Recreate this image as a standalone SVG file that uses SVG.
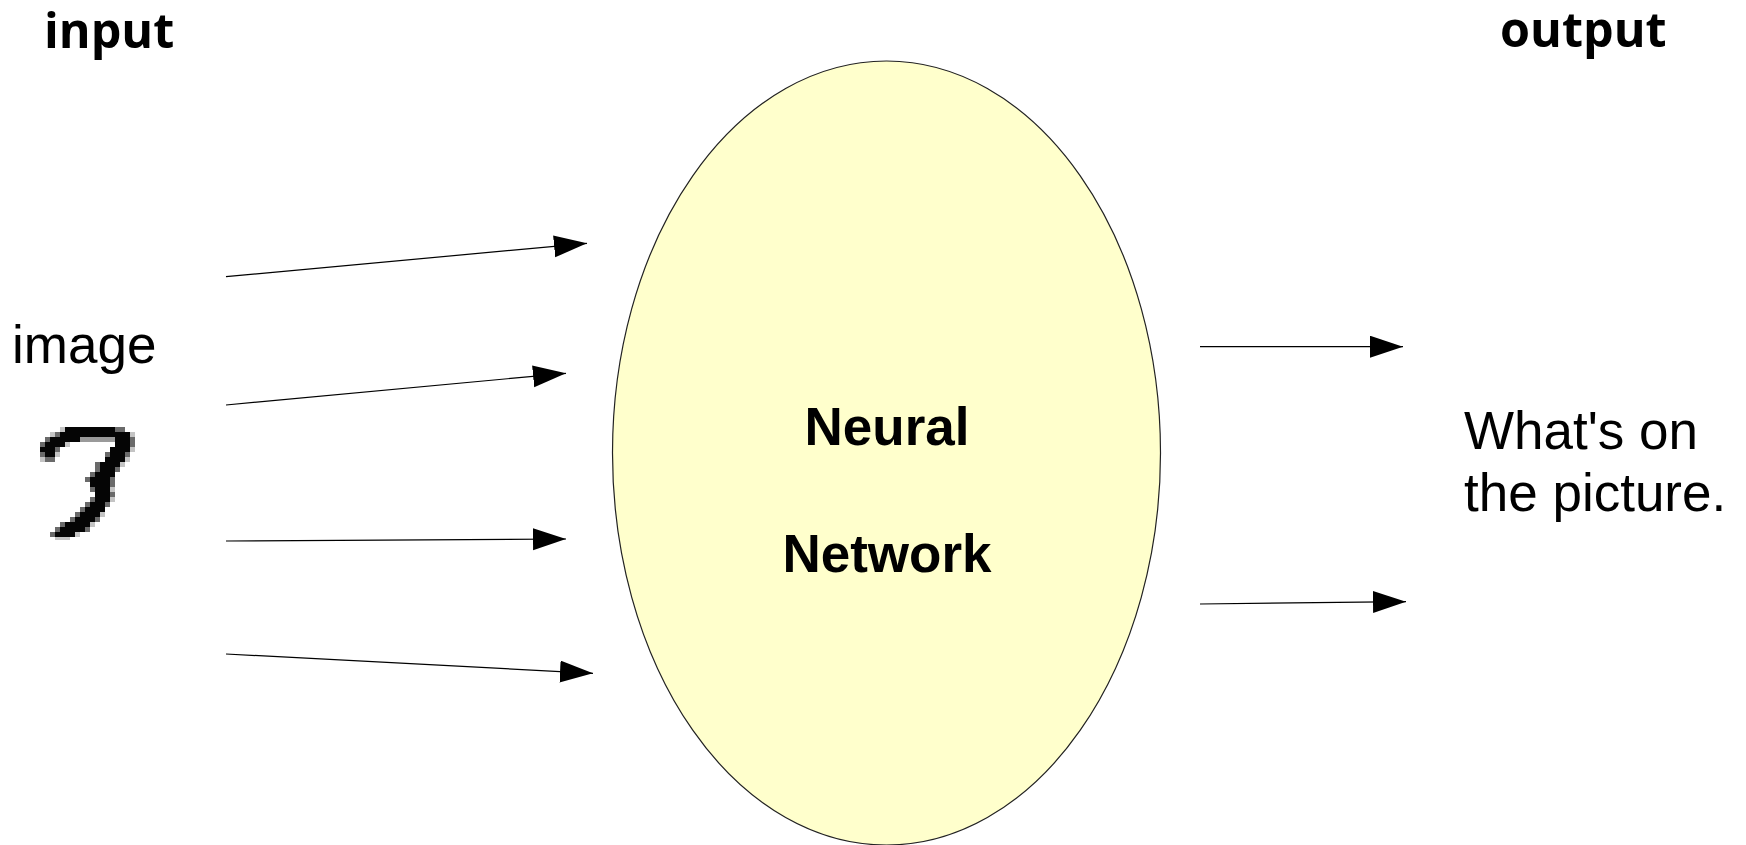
<svg xmlns="http://www.w3.org/2000/svg" width="1746" height="845" viewBox="0 0 1746 845">
  <style>
    .head { font-family: "Open Sans", "Liberation Sans", sans-serif; font-weight: 700; font-size: 48.5px; fill: #000; }
    .label { font-family: "Liberation Sans", Arial, sans-serif; font-size: 53px; fill: #000; }
    .nn { font-family: "Liberation Sans", Arial, sans-serif; font-weight: 700; font-size: 53px; fill: #000; text-anchor: middle; }
    .edge { stroke: #000; stroke-width: 1.2; fill: none; marker-end: url(#arrow); }
    .d { fill: #050505; }
    .g { fill: #6a6a6a; }
    .l { fill: #c4c4c4; }
  </style>
  <defs>
    <marker id="arrow" markerUnits="userSpaceOnUse" markerWidth="34" markerHeight="24" refX="33" refY="11" orient="auto">
      <path d="M0,0 L33,11 L0,22 Z" fill="#000"/>
    </marker>
  </defs>
  <rect width="1746" height="845" fill="#fff"/>

  <g id="title-input"><text class="head" x="44" y="48">input</text></g>
  <g id="title-output"><text class="head" x="1500" y="47">output</text></g>

  <g id="image-label"><text class="label" x="12" y="363">image</text></g>

  <!-- handwritten digit, drawn as a 5px pixel grid -->
  <g id="digit-image" shape-rendering="crispEdges" transform="translate(35,422)">
    <!-- r1 -->
    <rect class="l" x="25" y="5" width="5" height="5"/>
    <rect class="d" x="30" y="5" width="50" height="5"/>
    <rect class="g" x="80" y="5" width="10" height="5"/>
    <!-- r2 -->
    <rect class="l" x="15" y="10" width="5" height="5"/>
    <rect class="g" x="20" y="10" width="5" height="5"/>
    <rect class="d" x="25" y="10" width="70" height="5"/>
    <rect class="l" x="95" y="10" width="5" height="5"/>
    <!-- r3 -->
    <rect class="g" x="10" y="15" width="5" height="5"/>
    <rect class="d" x="15" y="15" width="30" height="5"/>
    <rect fill="#9a9a9a" x="45" y="15" width="35" height="5"/>
    <rect class="d" x="80" y="15" width="15" height="5"/>
    <rect class="g" x="95" y="15" width="5" height="5"/>
    <!-- r4 -->
    <rect class="g" x="5" y="20" width="5" height="5"/>
    <rect class="d" x="10" y="20" width="20" height="5"/>
    <rect class="l" x="30" y="20" width="5" height="5"/>
    <rect class="d" x="80" y="20" width="15" height="5"/>
    <rect class="g" x="95" y="20" width="5" height="5"/>
    <!-- r5 -->
    <rect class="d" x="5" y="25" width="15" height="5"/>
    <rect class="g" x="20" y="25" width="5" height="5"/>
    <rect class="d" x="75" y="25" width="20" height="5"/>
    <rect class="l" x="95" y="25" width="5" height="5"/>
    <!-- r6 -->
    <rect class="g" x="5" y="30" width="5" height="5"/>
    <rect class="d" x="10" y="30" width="10" height="5"/>
    <rect class="l" x="20" y="30" width="5" height="5"/>
    <rect class="g" x="70" y="30" width="5" height="5"/>
    <rect class="d" x="75" y="30" width="15" height="5"/>
    <rect class="g" x="90" y="30" width="5" height="5"/>
    <!-- r7 -->
    <rect class="l" x="5" y="35" width="5" height="5"/>
    <rect class="g" x="10" y="35" width="10" height="5"/>
    <rect class="d" x="70" y="35" width="20" height="5"/>
    <rect class="l" x="90" y="35" width="5" height="5"/>
    <!-- r8 -->
    <rect class="g" x="60" y="40" width="5" height="5"/>
    <rect class="d" x="65" y="40" width="20" height="5"/>
    <rect class="l" x="85" y="40" width="5" height="5"/>
    <!-- r9 -->
    <rect class="g" x="60" y="45" width="5" height="5"/>
    <rect class="d" x="65" y="45" width="15" height="5"/>
    <rect class="g" x="80" y="45" width="5" height="5"/>
    <!-- r10 -->
    <rect class="g" x="55" y="50" width="5" height="5"/>
    <rect class="d" x="60" y="50" width="20" height="5"/>
    <!-- r11 -->
    <rect class="g" x="50" y="55" width="5" height="5"/>
    <rect class="d" x="55" y="55" width="20" height="5"/>
    <rect class="g" x="75" y="55" width="5" height="5"/>
    <!-- r12 -->
    <rect class="d" x="55" y="60" width="20" height="5"/>
    <rect class="g" x="75" y="60" width="5" height="5"/>
    <!-- r13 -->
    <rect class="g" x="55" y="65" width="5" height="5"/>
    <rect class="d" x="60" y="65" width="15" height="5"/>
    <rect class="l" x="75" y="65" width="5" height="5"/>
    <!-- r14 -->
    <rect class="d" x="60" y="70" width="15" height="5"/>
    <rect class="g" x="75" y="70" width="5" height="5"/>
    <!-- r15 -->
    <rect class="g" x="55" y="75" width="5" height="5"/>
    <rect class="d" x="60" y="75" width="15" height="5"/>
    <rect class="l" x="75" y="75" width="5" height="5"/>
    <!-- r16 -->
    <rect class="g" x="50" y="80" width="5" height="5"/>
    <rect class="d" x="55" y="80" width="15" height="5"/>
    <rect class="g" x="70" y="80" width="5" height="5"/>
    <!-- r17 -->
    <rect class="g" x="45" y="85" width="5" height="5"/>
    <rect class="d" x="50" y="85" width="20" height="5"/>
    <!-- r18 -->
    <rect class="g" x="40" y="90" width="5" height="5"/>
    <rect class="d" x="45" y="90" width="20" height="5"/>
    <rect class="l" x="65" y="90" width="5" height="5"/>
    <!-- r19 -->
    <rect class="g" x="35" y="95" width="5" height="5"/>
    <rect class="d" x="40" y="95" width="20" height="5"/>
    <rect class="g" x="60" y="95" width="5" height="5"/>
    <!-- r20 -->
    <rect class="g" x="25" y="100" width="5" height="5"/>
    <rect class="d" x="30" y="100" width="25" height="5"/>
    <rect class="l" x="55" y="100" width="5" height="5"/>
    <!-- r21 -->
    <rect class="g" x="20" y="105" width="5" height="5"/>
    <rect class="d" x="25" y="105" width="25" height="5"/>
    <rect class="g" x="50" y="105" width="5" height="5"/>
    <!-- r22 -->
    <rect class="g" x="15" y="110" width="5" height="5"/>
    <rect class="d" x="20" y="110" width="20" height="5"/>
    <rect class="l" x="40" y="110" width="5" height="5"/>
    <!-- r23 -->
    <rect class="l" x="20" y="115" width="15" height="3"/>
  </g>

  <g id="neural-network">
    <ellipse cx="886.5" cy="453" rx="274" ry="392" fill="#ffffcc" stroke="#222" stroke-width="1.2"/>
    <text class="nn" x="887" y="445">Neural</text>
    <text class="nn" x="887" y="572">Network</text>
  </g>

  <g id="result-label">
    <text class="label" x="1464" y="449">What's on</text>
    <text class="label" x="1464" y="511">the picture.</text>
  </g>

  <g id="connectors">
    <line class="edge" x1="226" y1="276.7" x2="587" y2="243.3"/>
    <line class="edge" x1="226" y1="405" x2="566" y2="373.3"/>
    <line class="edge" x1="226" y1="541" x2="566" y2="539"/>
    <line class="edge" x1="226" y1="654" x2="593" y2="673.3"/>
    <line class="edge" x1="1200" y1="346.7" x2="1403" y2="346.7"/>
    <line class="edge" x1="1200" y1="604" x2="1406" y2="601.7"/>
  </g>
</svg>
